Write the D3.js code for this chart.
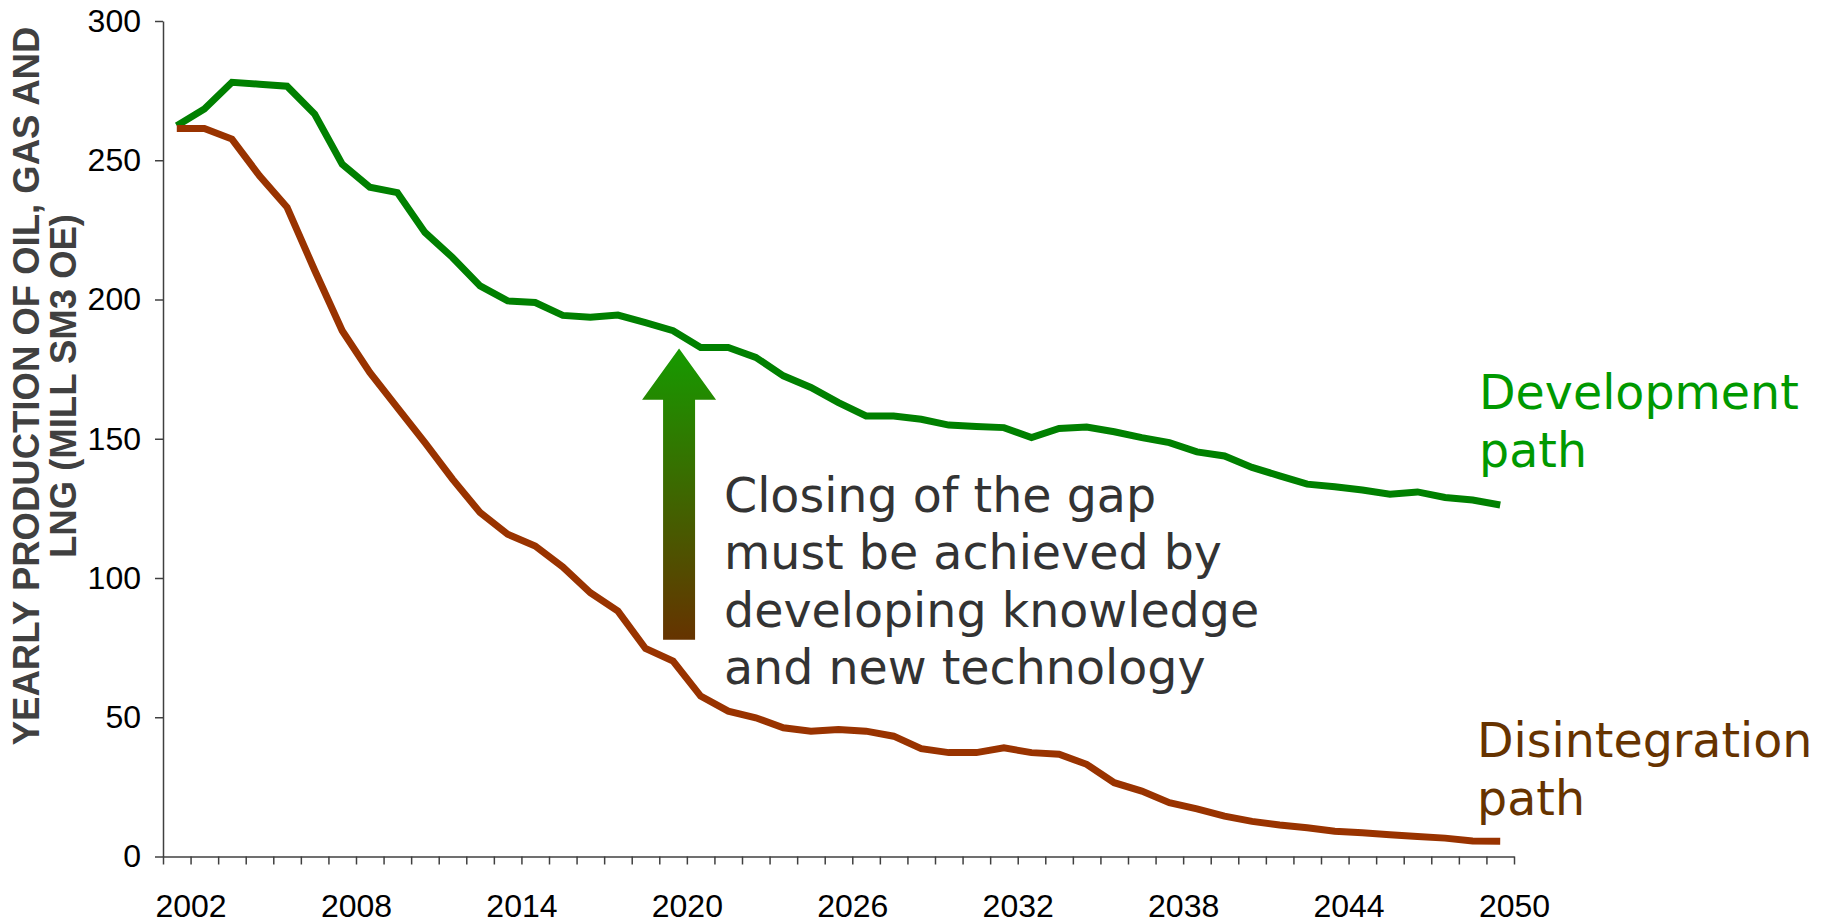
<!DOCTYPE html>
<html>
<head>
<meta charset="utf-8">
<script src="https://cdn.jsdelivr.net/npm/d3@7"></script>
<style>
  html, body { margin: 0; padding: 0; background: #ffffff; }
  svg { display: block; }
</style>
</head>
<body>
<svg id="chart" width="1830" height="924"></svg>
<script>
// ---- data ----
const years = d3.range(2002, 2051);
const labelYears = [2002, 2008, 2014, 2020, 2026, 2032, 2038, 2044, 2050];
const yTicks = [0, 50, 100, 150, 200, 250, 300];

const developmentPath = [
  262.4, 268.4, 278.0, 277.3, 276.6, 266.6, 248.6, 240.3, 238.4, 224.1,
  215.1, 204.9, 199.5, 198.9, 194.3, 193.6, 194.4, 191.7, 188.8, 182.8,
  182.8, 179.2, 172.6, 168.4, 163.0, 158.2, 158.2, 157.0, 154.9, 154.4,
  154.0, 150.4, 153.7, 154.2, 152.5, 150.4, 148.6, 145.3, 143.8, 139.7,
  136.7, 133.7, 132.8, 131.6, 130.1, 130.9, 128.9, 128.0, 126.2
];
const disintegrationPath = [
  261.4, 261.4, 257.6, 244.4, 233.1, 210.5, 188.8, 173.8, 161.2, 148.6,
  135.5, 123.5, 115.7, 111.5, 104.0, 94.7, 88.1, 74.7, 70.2, 57.6,
  52.2, 49.8, 46.2, 45.0, 45.6, 45.0, 43.2, 38.7, 37.3, 37.3,
  39.0, 37.3, 36.7, 33.1, 26.5, 23.5, 19.3, 17.1, 14.5, 12.6,
  11.3, 10.3, 9.1, 8.5, 7.8, 7.2, 6.6, 5.6, 5.5
];

const yTitle = ["YEARLY PRODUCTION OF OIL, GAS AND", "LNG (MILL SM3 OE)"];
const noteLines = ["Closing of the gap", "must be achieved by", "developing knowledge", "and new technology"];
const devLabel = ["Development", "path"];
const disLabel = ["Disintegration", "path"];

// ---- layout ----
const svg = d3.select("#chart");
const x = d3.scaleLinear().domain([2001.5, 2050.5]).range([163, 1514]);
const y = d3.scaleLinear().domain([0, 300]).range([856.5, 21]);

const axisColor = "#404040";

// arrow gradient
const defs = svg.append("defs");
const grad = defs.append("linearGradient")
  .attr("id", "arrowGrad").attr("x1", 0).attr("y1", 0).attr("x2", 0).attr("y2", 1);
grad.append("stop").attr("offset", "0%").attr("stop-color", "#169a00");
grad.append("stop").attr("offset", "100%").attr("stop-color", "#663300");

// y axis
const yAxis = svg.append("g")
  .attr("transform", `translate(${x.range()[0]},0)`)
  .call(d3.axisLeft(y).tickValues(yTicks).tickSize(8).tickSizeOuter(0).tickPadding(14));
yAxis.selectAll("text")
  .attr("font-family", "'Liberation Sans', Arial, sans-serif")
  .attr("font-size", 32).attr("fill", "#000");

// x axis
const edgeTicks = d3.range(2001.5, 2051, 1);
const xAxis = svg.append("g")
  .attr("transform", `translate(0,${y(0)})`)
  .call(d3.axisBottom(x).tickValues(edgeTicks).tickSize(8).tickSizeOuter(0).tickPadding(30)
    .tickFormat(v => labelYears.includes(v - 0.5) ? String(v - 0.5) : ""));
xAxis.selectAll("text")
  .attr("font-family", "'Liberation Sans', Arial, sans-serif")
  .attr("font-size", 32).attr("fill", "#000");

svg.selectAll(".domain, .tick line")
  .attr("stroke", axisColor).attr("stroke-width", 1.5);

// lines
const line = d3.line().x((d, i) => x(years[i])).y(d => y(d));
svg.append("path").datum(developmentPath)
  .attr("d", line).attr("fill", "none")
  .attr("stroke", "#008000").attr("stroke-width", 7).attr("stroke-linejoin", "miter");
svg.append("path").datum(disintegrationPath)
  .attr("d", line).attr("fill", "none")
  .attr("stroke", "#993300").attr("stroke-width", 7).attr("stroke-linejoin", "miter");

// arrow (annotation)
const ax = x(2020) + 6;
const tipY = y(182.4), headY = y(164), botY = y(77.8);
const headHalf = 37, shaftHalf = 16;
svg.append("path")
  .attr("d", `M${ax},${tipY} L${ax + headHalf},${headY} L${ax + shaftHalf},${headY} L${ax + shaftHalf},${botY}
              L${ax - shaftHalf},${botY} L${ax - shaftHalf},${headY} L${ax - headHalf},${headY} Z`)
  .attr("fill", "url(#arrowGrad)");

// annotation text
const note = svg.append("text")
  .attr("font-family", "'DejaVu Sans', Verdana, sans-serif")
  .attr("font-size", 47.5).attr("fill", "#333333");
noteLines.forEach((t, i) => {
  note.append("tspan").attr("x", 724).attr("y", 511.7 + i * 57.5).text(t);
});

// series labels
const dev = svg.append("text")
  .attr("font-family", "'DejaVu Sans', Verdana, sans-serif")
  .attr("font-size", 47.5).attr("fill", "#009900");
devLabel.forEach((t, i) => dev.append("tspan").attr("x", 1479).attr("y", 409 + i * 58).text(t));

const dis = svg.append("text")
  .attr("font-family", "'DejaVu Sans', Verdana, sans-serif")
  .attr("font-size", 47.5).attr("fill", "#663300");
disLabel.forEach((t, i) => dis.append("tspan").attr("x", 1477).attr("y", 757 + i * 58).text(t));

// y axis title
const yt = svg.append("text")
  .attr("transform", "rotate(-90)")
  .attr("text-anchor", "middle")
  .attr("font-family", "'Liberation Sans', Arial, sans-serif")
  .attr("font-weight", "bold").attr("font-size", 36.5).attr("fill", "#404040");
yTitle.forEach((t, i) => yt.append("tspan").attr("x", -386).attr("y", 39 + i * 37).text(t));
</script>
</body>
</html>
